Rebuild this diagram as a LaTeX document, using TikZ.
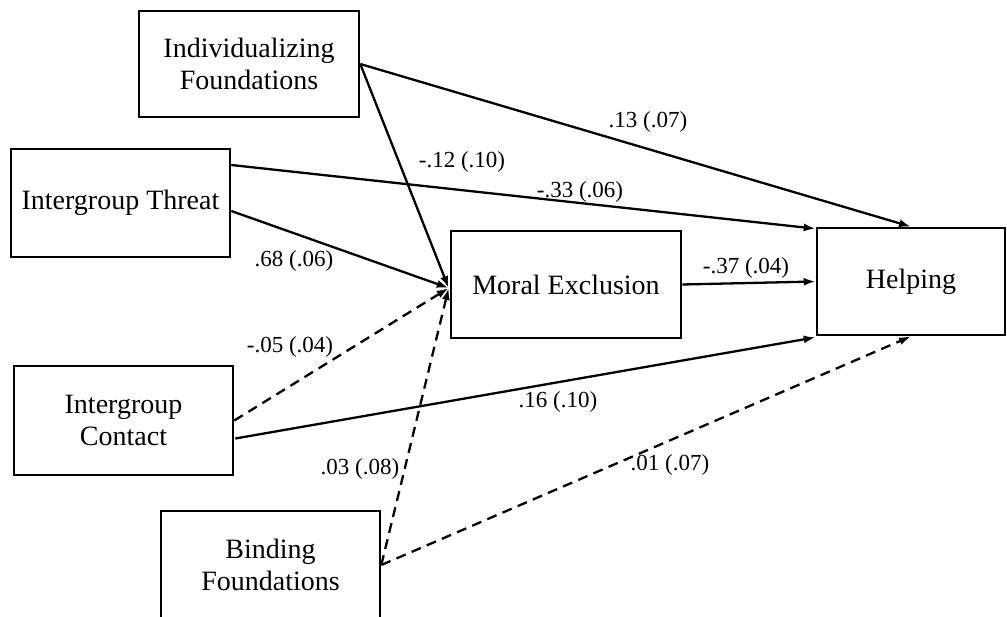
\documentclass[tikz,border=0pt]{standalone}
\usepackage{fontspec}
\setmainfont{Liberation Serif}
\usetikzlibrary{arrows.meta,calc}

\tikzset{
  box/.style={draw=black, line width=2.6pt, rectangle, align=center,
    font=\fontsize{28}{32}\selectfont, inner sep=0pt},
  path/.style={line width=2.3pt, -{Latex[length=12pt,width=8pt]}},
  nspath/.style={path, dash pattern=on 10pt off 6.5pt},
  coef/.style={font=\fontsize{23}{26}\selectfont, inner sep=0pt}
}

\begin{document}
\begin{tikzpicture}[x=1pt,y=-1pt]
\useasboundingbox (0,0) rectangle (1007,616);

% variables
\node[box, minimum width=220pt, minimum height=106pt] (ind) at (249,64) {Individualizing\\Foundations};
\node[box, minimum width=219pt, minimum height=108pt] (thr) at (120.5,203) {Intergroup Threat};
\node[box, minimum width=219pt, minimum height=109pt] (con) at (123.5,420.5) {Intergroup\\Contact};
\node[box, minimum width=219pt, minimum height=108pt] (bin) at (270.5,565) {Binding\\Foundations};
\node[box, minimum width=230pt, minimum height=107pt] (mor) at (566,284.5) {Moral Exclusion};
\node[box, minimum width=188pt, minimum height=107pt] (hlp) at (911,281.5) {Helping};

% common entry point on the mediator
\coordinate (mx) at ($(mor.west)+(-1,3.5)$);

% paths to the mediator
\draw[path] (ind.east) -- (mx);
\draw[path] ($(thr.east)+(0,8)$) -- (mx);
\draw[nspath] (con.east) -- (mx);
\draw[nspath] (bin.east) -- (mx);

% paths to the outcome
\draw[path] (ind.east) -- (hlp.north);
\draw[path] ($(thr.east)+(0,-38)$) -- ($(hlp.north west)+(0,2)$);
\draw[path] (mor.east) -- (hlp.west);
\draw[path] ($(con.east)+(1,18)$) -- ($(hlp.south west)+(0,1)$);
\draw[nspath] (bin.east) -- (hlp.south);

% coefficients
\node[coef] (c1) at (648,122) {.13 (.07)};
\node[coef] (c2) at (462,162) {-.12 (.10)};
\node[coef] (c3) at (580,192) {-.33 (.06)};
\node[coef] (c4) at (294,261) {.68 (.06)};
\node[coef] (c5) at (746,268) {-.37 (.04)};
\node[coef] (c6) at (290,347) {-.05 (.04)};
\node[coef] (c7) at (558,402) {.16 (.10)};
\node[coef] (c8) at (360,469) {.03 (.08)};
\node[coef] (c9) at (670,465) {.01 (.07)};
\end{tikzpicture}
\end{document}
